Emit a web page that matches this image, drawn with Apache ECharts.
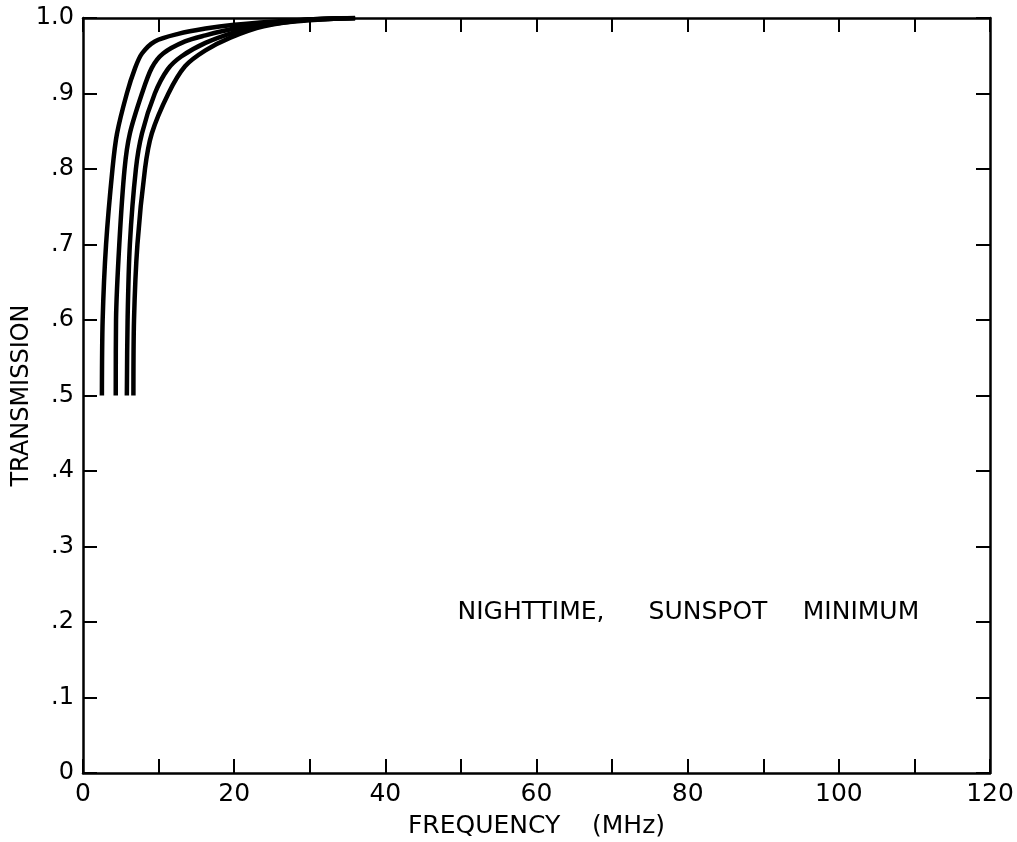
<!DOCTYPE html>
<html>
<head>
<meta charset="utf-8">
<script src="https://cdn.jsdelivr.net/npm/echarts@6/dist/echarts.min.js"></script>
<style>
  html, body { margin: 0; padding: 0; background: #fff; }
  #chart { width: 1017px; height: 842px; }
</style>
</head>
<body>
<div id="chart"></div>
<script>
// frequency (MHz), transmission — one array per curve
const curve1 = [[2.5, 0.5], [2.6, 0.6], [3.05, 0.7], [3.9, 0.8], [4.5, 0.847], [5.8, 0.9], [6.9, 0.934], [7.8, 0.953], [9.5, 0.969], [12.6, 0.979], [16.2, 0.986], [20, 0.991], [25, 0.995], [30, 0.998], [36, 1.0]]
const curve2 = [[4.33, 0.5], [4.37, 0.6], [4.8, 0.7], [5.5, 0.8], [6.2, 0.847], [7.8, 0.9], [9.1, 0.934], [10.6, 0.953], [13.5, 0.969], [16.2, 0.977], [20, 0.986], [23.5, 0.992], [30, 0.998], [36, 1.0]]
const curve3 = [[5.8, 0.5], [5.9, 0.6], [6.2, 0.7], [7.0, 0.8], [7.8, 0.847], [9.5, 0.9], [11.2, 0.932], [13, 0.949], [16.2, 0.967], [20, 0.981], [23.5, 0.99], [30, 0.997], [36, 1.0]]
const curve4 = [[6.67, 0.5], [6.75, 0.6], [7.2, 0.7], [8.2, 0.8], [9.1, 0.847], [11.3, 0.9], [13.5, 0.936], [16.2, 0.957], [19.5, 0.974], [23.9, 0.989], [30, 0.998], [36, 1.0]]

const xLabels = ['0', '20', '40', '60', '80', '100', '120']
const yLabels = ['0', '.1', '.2', '.3', '.4', '.5', '.6', '.7', '.8', '.9', '1.0']
const noteWords = ['NIGHTTIME,', 'SUNSPOT', 'MINIMUM']

const FONT = 'DejaVu Sans'
const axisLine = { onZero: false, lineStyle: { color: '#000', width: 2.5 } }
const inTick = { inside: true, length: 14, lineStyle: { color: '#000', width: 2 } }

const makeSeries = (data) => ({
  type: 'line',
  data: data,
  smooth: 0.3,
  showSymbol: false,
  lineStyle: { color: '#000', width: 4.5 },
  xAxisIndex: 0,
  yAxisIndex: 0,
})

const option = {
  animation: false,
  backgroundColor: '#fff',
  grid: { left: 83, right: 27, top: 18, bottom: 69, containLabel: false, outerBoundsMode: 'none' },
  xAxis: [{
    type: 'value',
    min: 0, max: 120, interval: 10,
    position: 'bottom',
    axisLine: axisLine,
    axisTick: inTick,
    splitLine: { show: false },
    axisLabel: {
      color: '#000', fontFamily: FONT, fontSize: 25, margin: 9,
      formatter: (v) => v % 20 === 0 ? xLabels[v / 20] : ''
    },
    name: 'FREQUENCY    (MHz)',
    nameLocation: 'middle',
    nameGap: 53,
    nameMoveOverlap: false,
    nameTextStyle: { color: '#000', fontFamily: FONT, fontSize: 25, verticalAlign: 'middle' },
  }, {
    type: 'value',
    min: 0, max: 120, interval: 10,
    position: 'top',
    axisLine: axisLine,
    axisTick: inTick,
    splitLine: { show: false },
    axisLabel: { show: false },
  }],
  yAxis: [{
    type: 'value',
    min: 0, max: 1, interval: 0.1,
    position: 'left',
    axisLine: axisLine,
    axisTick: inTick,
    splitLine: { show: false },
    axisLabel: {
      color: '#000', fontFamily: FONT, fontSize: 24, margin: 9,
      formatter: (v) => yLabels[Math.round(v * 10)]
    },
    name: 'TRANSMISSION',
    nameLocation: 'middle',
    nameGap: 61,
    nameMoveOverlap: false,
    nameTextStyle: { color: '#000', fontFamily: FONT, fontSize: 24, verticalAlign: 'middle' },
  }, {
    type: 'value',
    min: 0, max: 1, interval: 0.1,
    position: 'right',
    axisLine: axisLine,
    axisTick: inTick,
    splitLine: { show: false },
    axisLabel: { show: false },
  }],
  // the note, one word per piece so the wide lettering lines up
  graphic: noteWords.map((w, i) => ({
    type: 'text',
    x: [531, 708, 861][i],
    y: 612,
    style: {
      text: w,
      fill: '#000',
      font: '25px "DejaVu Sans"',
      align: 'center',
      verticalAlign: 'middle',
    }
  })),
  series: [curve1, curve2, curve3, curve4].map(makeSeries)
}

const myChart = echarts.init(document.getElementById('chart'))
myChart.setOption(option)
</script>
</body>
</html>
